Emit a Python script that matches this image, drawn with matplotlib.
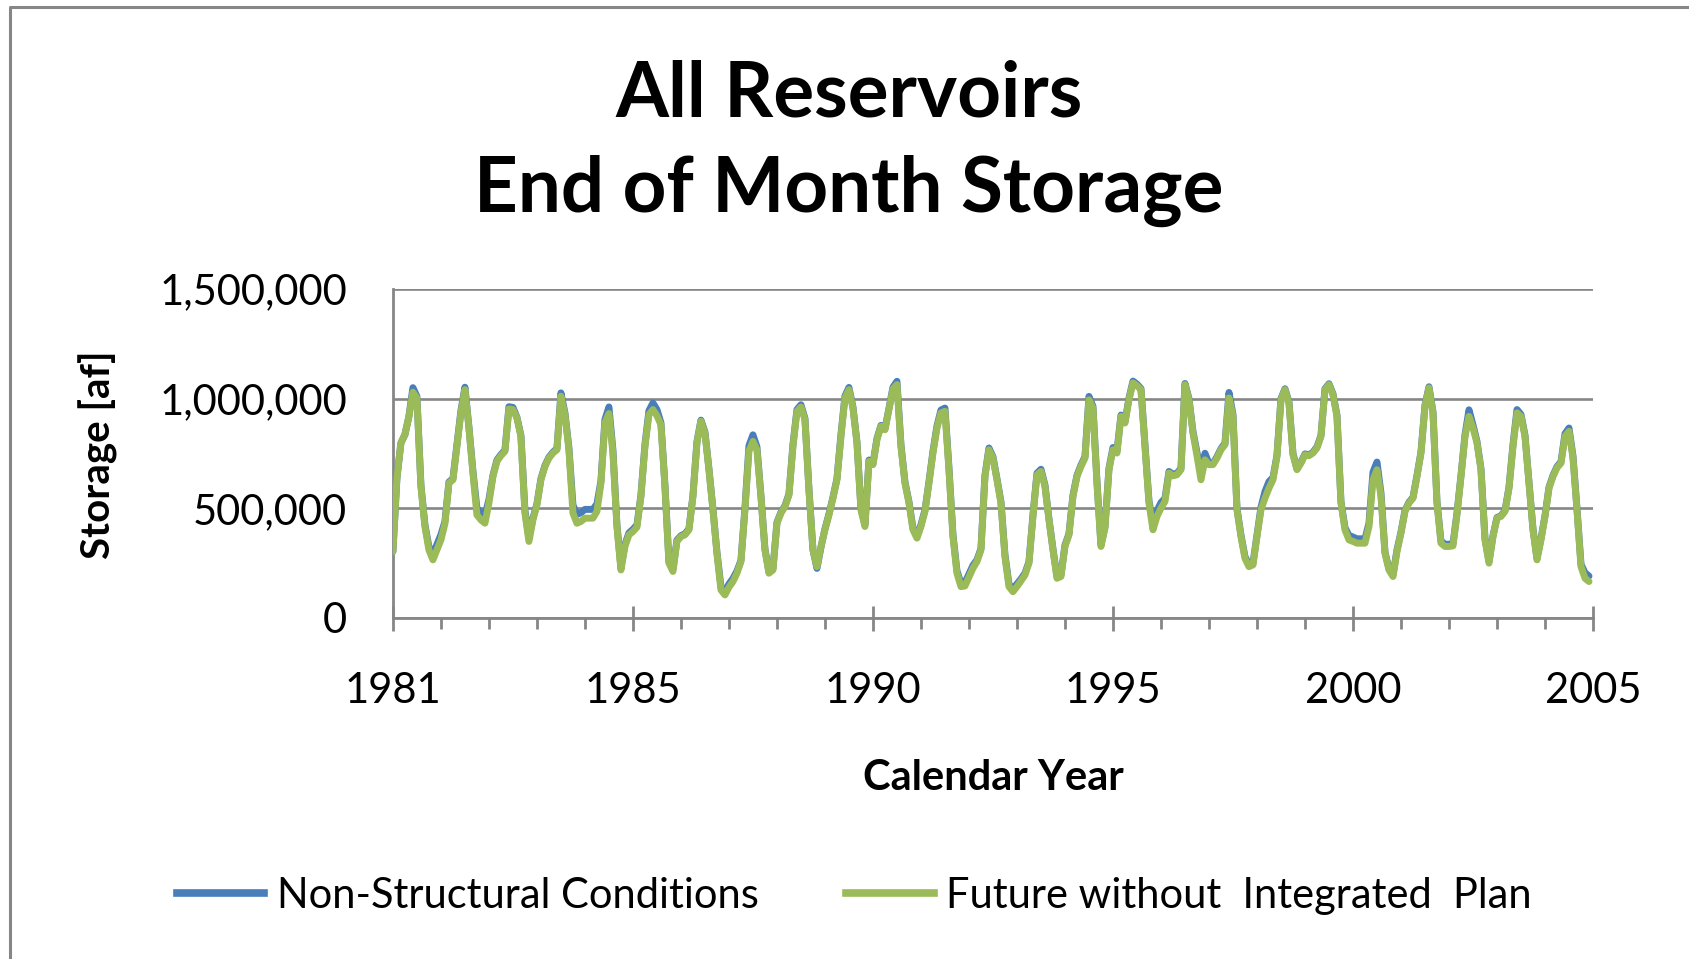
"""All Reservoirs - end of month storage, 1981-2005 (monthly)."""
import matplotlib
matplotlib.use("Agg")
import matplotlib.pyplot as plt
from matplotlib.lines import Line2D
from matplotlib.ticker import FuncFormatter, MultipleLocator
import numpy as np

plt.rcParams["font.family"] = ["Lato", "DejaVu Sans"]

BLUE = "#4a7ebb"
GREEN = "#9bbb59"
GRID = "#868686"

# end of month storage, thousand acre-feet, one row per year (Jan..Dec)
NON_STRUCTURAL = [
    [303, 638, 798, 836, 919, 1050, 1010, 605, 425, 325, 290, 335],
    [380, 440, 620, 635, 790, 945, 1052, 870, 670, 500, 482, 467],
    [540, 650, 720, 745, 765, 963, 960, 915, 832, 490, 364, 455],
    [520, 635, 695, 733, 756, 772, 1026, 935, 775, 515, 472, 480],
    [495, 495, 495, 520, 625, 905, 962, 765, 425, 229, 335, 388],
    [404, 424, 560, 790, 945, 980, 950, 890, 605, 258, 222, 355],
    [375, 384, 406, 558, 803, 902, 848, 680, 497, 300, 143, 120],
    [155, 180, 214, 262, 500, 785, 835, 780, 558, 314, 210, 224],
    [436, 482, 512, 565, 790, 950, 972, 910, 588, 312, 226, 322],
    [406, 474, 550, 635, 835, 1012, 1051, 962, 803, 500, 425, 720],
    [703, 818, 878, 862, 955, 1052, 1079, 790, 620, 530, 410, 375],
    [425, 492, 620, 760, 875, 948, 957, 685, 380, 215, 158, 161],
    [200, 240, 265, 316, 650, 775, 735, 635, 530, 288, 155, 132],
    [155, 178, 204, 256, 470, 660, 678, 606, 452, 315, 190, 196],
    [332, 384, 560, 650, 697, 735, 1010, 965, 622, 334, 416, 682],
    [777, 760, 925, 894, 1002, 1080, 1066, 1046, 788, 534, 427, 488],
    [526, 545, 668, 655, 660, 682, 1069, 1000, 850, 755, 660, 751],
    [704, 704, 735, 772, 797, 1028, 928, 500, 378, 280, 242, 250],
    [377, 505, 576, 622, 640, 742, 1000, 1045, 985, 750, 680, 710],
    [748, 744, 756, 780, 832, 1045, 1068, 1022, 925, 530, 412, 376],
    [369, 361, 361, 361, 432, 665, 711, 570, 300, 224, 196, 310],
    [392, 490, 528, 550, 650, 757, 970, 1054, 940, 530, 351, 336],
    [336, 339, 478, 650, 835, 949, 880, 805, 680, 362, 258, 375],
    [458, 466, 490, 596, 790, 950, 928, 833, 620, 406, 272, 362],
    [466, 596, 650, 690, 712, 840, 866, 738, 498, 245, 206, 191],
]

FUTURE_WITHOUT_PLAN = [
    [303, 638, 798, 836, 919, 1029, 1003, 600, 417, 310, 265, 310],
    [356, 430, 615, 630, 782, 935, 1041, 866, 661, 470, 447, 432],
    [524, 645, 714, 740, 760, 953, 950, 912, 828, 478, 349, 447],
    [516, 630, 691, 729, 752, 767, 1011, 927, 767, 478, 432, 440],
    [455, 455, 455, 486, 615, 889, 932, 752, 417, 219, 326, 379],
    [394, 414, 554, 782, 927, 950, 922, 881, 600, 250, 212, 349],
    [371, 379, 402, 554, 798, 897, 843, 676, 493, 295, 128, 105],
    [140, 166, 204, 257, 493, 760, 805, 767, 554, 310, 204, 219],
    [432, 478, 508, 560, 782, 942, 962, 904, 584, 310, 234, 326],
    [402, 470, 546, 630, 828, 1003, 1041, 957, 798, 493, 417, 714],
    [699, 813, 874, 858, 950, 1044, 1064, 782, 615, 524, 402, 364],
    [417, 486, 615, 752, 866, 935, 942, 676, 371, 204, 143, 146],
    [186, 227, 257, 310, 645, 767, 729, 630, 524, 280, 143, 120],
    [143, 169, 196, 250, 463, 653, 668, 600, 447, 310, 181, 189],
    [326, 379, 554, 645, 691, 729, 995, 957, 615, 326, 409, 676],
    [767, 752, 919, 889, 995, 1072, 1059, 1041, 782, 524, 402, 463],
    [501, 531, 661, 648, 653, 676, 1064, 995, 843, 740, 630, 721],
    [699, 699, 729, 767, 790, 1003, 919, 493, 371, 272, 234, 242],
    [371, 493, 546, 592, 630, 737, 995, 1041, 980, 744, 676, 706],
    [744, 740, 752, 775, 828, 1041, 1064, 1018, 919, 524, 402, 356],
    [349, 341, 341, 341, 417, 630, 676, 554, 295, 219, 189, 303],
    [387, 486, 524, 546, 645, 752, 965, 1049, 935, 524, 341, 326],
    [326, 329, 472, 645, 828, 919, 866, 798, 676, 356, 250, 371],
    [455, 463, 486, 592, 782, 935, 919, 828, 615, 402, 265, 356],
    [463, 592, 645, 685, 706, 828, 851, 729, 493, 234, 181, 166],
]

YEAR_LABELS = ["1981", "1985", "1990", "1995", "2000", "2005"]
SERIES_NAMES = ["Non-Structural Conditions", "Future without  Integrated  Plan"]

non_struct = np.concatenate(NON_STRUCTURAL)
future = np.concatenate(FUTURE_WITHOUT_PLAN)
months = np.arange(len(future))

fig = plt.figure(figsize=(16.9, 9.59), dpi=100)
fig.patch.set_facecolor("white")
ax = fig.add_axes([0.2325, 0.3556, 0.7101, 0.3431])

ax.plot(months, non_struct, color=BLUE, lw=5.0, solid_joinstyle="round",
        solid_capstyle="round", zorder=3)
ax.plot(months, future, color=GREEN, lw=5.0, solid_joinstyle="round",
        solid_capstyle="round", zorder=4)

ax.set_xlim(0, 300)
ax.set_ylim(0, 1500)
ax.set_yticks([0, 500, 1000, 1500])
ax.yaxis.set_major_formatter(FuncFormatter(lambda v, p: f"{v * 1000:,.0f}"))
ax.set_xticks(np.arange(0, 301, 60))
ax.set_xticklabels(YEAR_LABELS)
ax.xaxis.set_minor_locator(MultipleLocator(12))

ax.yaxis.grid(True, color=GRID, linewidth=1.9, zorder=0)
ax.set_axisbelow(True)
for s in ["top", "right"]:
    ax.spines[s].set_visible(False)
for s in ["left", "bottom"]:
    ax.spines[s].set_color(GRID)
    ax.spines[s].set_linewidth(2.0)

ax.tick_params(axis="y", length=0, pad=33, labelsize=30)
ax.tick_params(axis="x", which="major", direction="inout", length=18,
               width=2.0, color=GRID, pad=30, labelsize=30)
ax.tick_params(axis="x", which="minor", direction="out", length=8,
               width=2.0, color=GRID)

# titles and axis labels
fig.text(0.5024, 0.879, "All Reservoirs", ha="center", va="baseline",
         fontsize=55, fontweight="bold")
fig.text(0.5024, 0.779, "End of Month Storage", ha="center", va="baseline",
         fontsize=55, fontweight="bold")
fig.text(0.058, 0.5255, "Storage [af]", rotation=90, ha="center",
         va="center", fontsize=29, fontweight="bold")
fig.text(0.5876, 0.1762, "Calendar Year", ha="center", va="baseline",
         fontsize=30, fontweight="bold")

# chart area border (only top and left fall inside the picture)
fig.add_artist(Line2D([10 / 1690, 10 / 1690, 1.0], [0.0, 1 - 7 / 959, 1 - 7 / 959],
                      transform=fig.transFigure, color=GRID, lw=2.2))

handles = [Line2D([], [], color=BLUE, lw=5.5), Line2D([], [], color=GREEN, lw=5.5)]
fig.legend(handles, SERIES_NAMES, loc="center", bbox_to_anchor=(0.5056, 0.0657),
           ncol=2, frameon=False, fontsize=30, handlelength=2.1,
           handletextpad=0.3, columnspacing=2.1)

fig.savefig("out.png", dpi=100, facecolor="white")
